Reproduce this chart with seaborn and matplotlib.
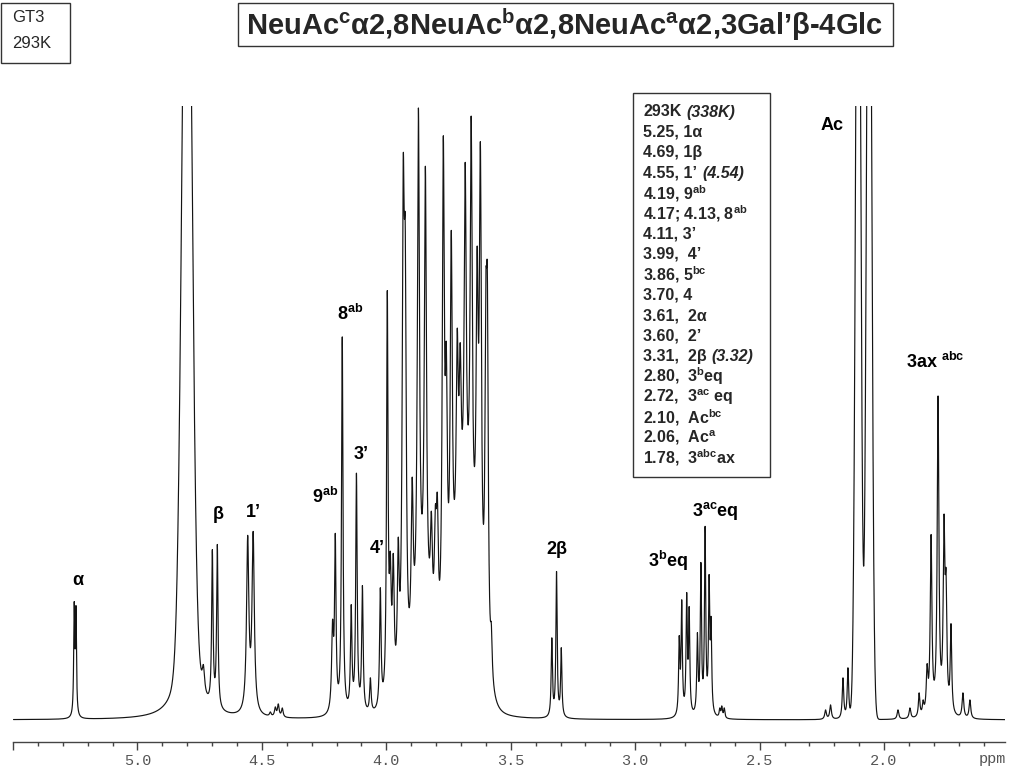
import numpy as np
import pandas as pd
import matplotlib
matplotlib.use("Agg")
import matplotlib.pyplot as plt
import seaborn as sns
from matplotlib import font_manager
from matplotlib.patches import Rectangle

# ---------------- data ----------------
# sharp lines: position (ppm), observed height at the line top, half width (ppm)
sharp_ppm = [5.254, 5.247, 4.758, 4.735, 4.699, 4.679, 4.557, 4.535,
             4.466, 4.446, 4.434, 4.418,
             4.216, 4.205, 4.177, 4.141, 4.120, 4.096, 4.064, 4.024, 3.996,
             3.984, 3.972, 3.952, 3.932, 3.924, 3.896, 3.871, 3.843, 3.819,
             3.803, 3.795, 3.771, 3.759, 3.739, 3.715, 3.703, 3.683, 3.659,
             3.635, 3.622, 3.600, 3.594, 3.578,
             3.335, 3.316, 3.297,
             2.823, 2.813, 2.793, 2.783, 2.750, 2.736, 2.719, 2.703, 2.695,
             2.660, 2.652, 2.642,
             2.235, 2.215, 2.165, 2.145,
             1.944, 1.896, 1.859, 1.843, 1.827, 1.811, 1.783, 1.759, 1.751,
             1.731, 1.683, 1.655]
sharp_height = [118, 114, 105, 55, 170, 175, 184, 188,
                8, 13, 16, 12,
                100, 186, 382, 115, 246, 134, 42, 132, 428,
                168, 166, 182, 561, 496, 242, 610, 552, 208,
                214, 226, 582, 376, 488, 390, 376, 556, 602,
                472, 576, 442, 448, 96,
                82, 148, 72,
                84, 120, 127, 113, 87, 157, 193, 145, 103,
                12, 14, 12,
                10, 15, 42, 52,
                10, 12, 27, 20, 56, 185, 323, 205, 150,
                96, 27, 20]
sharp_hwhm = [0.0025, 0.0025, 0.006, 0.006, 0.0033, 0.0033, 0.0055, 0.0055,
              0.004, 0.004, 0.004, 0.004,
              0.0045, 0.0035, 0.0035, 0.0035, 0.0035, 0.0035, 0.0035, 0.0035, 0.0035,
              0.0045, 0.0045, 0.0045, 0.0050, 0.0050, 0.0050, 0.0050, 0.0050, 0.0050,
              0.0050, 0.0050, 0.0050, 0.0050, 0.0050, 0.0050, 0.0050, 0.0050, 0.0050,
              0.0050, 0.0050, 0.0045, 0.0045, 0.0040,
              0.0030, 0.0030, 0.0030,
              0.0030, 0.0030, 0.0030, 0.0030, 0.0030, 0.0030, 0.0030, 0.0030, 0.0030,
              0.0030, 0.0030, 0.0030,
              0.0040, 0.0040, 0.0035, 0.0035,
              0.0040, 0.0040, 0.0035, 0.0035, 0.0040, 0.0040, 0.0040, 0.0040, 0.0040,
              0.0035, 0.0040, 0.0040]

# off-scale lines (water and acetyl) and the broad sugar envelope, Gaussian shapes
big_ppm = [4.801, 2.104, 2.060, 3.685, 3.850]
big_height = [800, 1000, 1000, 165, 85]
big_sigma = [0.019, 0.0097, 0.0097, 0.045, 0.035]
# broad Lorentzian wing of the water line
wing_ppm = [4.801]
wing_height = [150]
wing_hwhm = [0.030]

tick_values = [5.5, 5.0, 4.5, 4.0, 3.5, 3.0, 2.5, 2.0]
tick_labels = ["", "5.0", "4.5", "4.0", "3.5", "3.0", "2.5", "2.0"]

peak_labels = ["α", "β", "1’", r"9$^{\mathrm{ab}}$", r"8$^{\mathrm{ab}}$", "3’", "4’",
               "2β", r"3$^{\mathrm{b}}$eq", r"3$^{\mathrm{ac}}$eq", "Ac", r"3ax $^{\mathrm{abc}}$"]
label_ppm = [5.241, 4.675, 4.534, 4.245, 4.145, 4.100, 4.036, 3.313, 2.867, 2.679, 2.209, 1.795]
label_height = [139, 205, 207, 222, 405, 265, 171, 170, 158, 208, 593, 357]

shift_lines = ["293K", "5.25, 1α", "4.69, 1β",
               "4.55, 1’", r"4.19, 9$^{\mathrm{ab}}$",
               r"4.17; 4.13, 8$^{\mathrm{ab}}$", "4.11, 3’", "3.99,  4’",
               r"3.86, 5$^{\mathrm{bc}}$", "3.70, 4", "3.61,  2α", "3.60,  2’",
               "3.31,  2β", r"2.80,  3$^{\mathrm{b}}$eq",
               r"2.72,  3$^{\mathrm{ac}}$ eq", r"2.10,  Ac$^{\mathrm{bc}}$",
               r"2.06,  Ac$^{\mathrm{a}}$", r"1.78,  3$^{\mathrm{abc}}$ax"]
shift_hot = ["(338K)", "", "", "(4.54)", "", "", "", "", "", "", "", "",
             "(3.32)", "", "", "", "", ""]

title_text = (r"NeuAc$^{\mathrm{c}}$α2,8NeuAc$^{\mathrm{b}}$α2,8NeuAc$^{\mathrm{a}}$"
              r"α2,3Gal’β-4Glc")
sample_text = ["GT3", "293K"]

# ---------------- build spectrum from the line list ----------------
def lor(x, c, h, g):
    return h * g * g / (g * g + (x - c) ** 2)

def gau(x, c, h, s):
    return h * np.exp(-(x - c) ** 2 / (2 * s * s))

def background(x):
    x = np.asarray(x, dtype=float)
    y = np.zeros_like(x)
    for c, h, s in zip(big_ppm, big_height, big_sigma):
        y += gau(x, c, h, s)
    for c, h, g in zip(wing_ppm, wing_height, wing_hwhm):
        y += lor(x, c, h, g)
    return y

p = np.array(sharp_ppm)
t = np.array(sharp_height, dtype=float)
w = np.array(sharp_hwhm)
A = w[None, :] ** 2 / (w[None, :] ** 2 + (p[:, None] - p[None, :]) ** 2)
target = np.clip(t - background(p), 0.5, None)
amp = target.copy()
for _ in range(400):
    amp *= target / np.maximum(A @ amp, 1e-9)

ppm = np.linspace(5.498, 1.514, 14000)
inten = background(ppm)
for c, h, g in zip(p, amp, w):
    inten += lor(ppm, c, h, g)

df = pd.DataFrame({"ppm": ppm, "intensity": inten})

# ---------------- figure ----------------
sns.set_style("white")
plt.rcParams["font.family"] = ["Liberation Sans", "DejaVu Sans"]
plt.rcParams["mathtext.fontset"] = "custom"
plt.rcParams["mathtext.rm"] = "Liberation Sans:bold"
plt.rcParams["mathtext.bf"] = "Liberation Sans:bold"
plt.rcParams["mathtext.it"] = "Liberation Sans:italic:bold"

W, H = 1024, 768
fig = plt.figure(figsize=(W / 100, H / 100), dpi=100)
fig.patch.set_facecolor("white")
ax = fig.add_axes([13 / W, 1 - 742 / H, (1005 - 13) / W, (742 - 106) / H])
ax.set_facecolor("white")

sns.lineplot(data=df, x="ppm", y="intensity", ax=ax, color="#141414",
             linewidth=0.85, estimator=None, sort=False)

ax.set_xlim(5.498, 1.514)
ax.set_ylim(-22, 612)
ax.set_xlabel("")
ax.set_ylabel("")
for s in ["top", "left", "right"]:
    ax.spines[s].set_visible(False)
ax.spines["bottom"].set_color("#444444")
ax.spines["bottom"].set_linewidth(1.0)
ax.set_yticks([])
ax.set_xticks(tick_values)
ax.set_xticklabels(tick_labels, fontfamily="Liberation Mono", fontsize=11, color="#555555")
ax.set_xticks(np.round(np.arange(5.5, 1.55, -0.1), 2), minor=True)
ax.tick_params(axis="x", which="major", direction="out", length=6, width=1,
               color="#444444", pad=2.5, bottom=True)
ax.tick_params(axis="x", which="minor", direction="out", length=3, width=1,
               color="#444444", bottom=True)

fig.text(979 / W, 1 - 759 / H, "ppm", fontfamily="Liberation Mono", fontsize=11,
         color="#555555", ha="left", va="center")

# peak labels
for lab, xp, yh in zip(peak_labels, label_ppm, label_height):
    ax.text(xp, yh, lab, ha="center", va="center", fontsize=13, fontweight="bold",
            color="black")

def fig_rect(x0, y0, x1, y1):
    r = Rectangle((x0 / W, 1 - y1 / H), (x1 - x0) / W, (y1 - y0) / H,
                  transform=fig.transFigure, fill=True, facecolor="white",
                  edgecolor="#333333", linewidth=1.0, zorder=5)
    fig.patches.append(r)

# sample box
fig_rect(1, 3, 70, 63)
fig.text(12 / W, 1 - 18 / H, sample_text[0], fontsize=12, ha="left", va="center", zorder=6)
fig.text(12 / W, 1 - 43 / H, sample_text[1], fontsize=12, ha="left", va="center", zorder=6)

# title box
fig_rect(238, 3, 893, 46)
fig.text(565 / W, 1 - 25 / H, title_text, fontsize=21,
         fontweight="bold", ha="center", va="center", zorder=6)

# chemical shift box
fig_rect(633, 93, 770, 477)
renderer = fig.canvas.get_renderer()
for i, (line, extra) in enumerate(zip(shift_lines, shift_hot)):
    yy = 1 - (112 + i * 20.35) / H
    tx = fig.text(643 / W, yy, line, fontsize=11.5, fontweight="bold",
                  ha="left", va="center", zorder=6)
    if extra:
        bb = tx.get_window_extent(renderer)
        fig.text((bb.x1 + 5) / W, yy, extra, fontsize=11.5, fontweight="bold",
                 fontstyle="italic", ha="left", va="center", zorder=6)

fig.savefig("out.png", dpi=100, facecolor="white")
